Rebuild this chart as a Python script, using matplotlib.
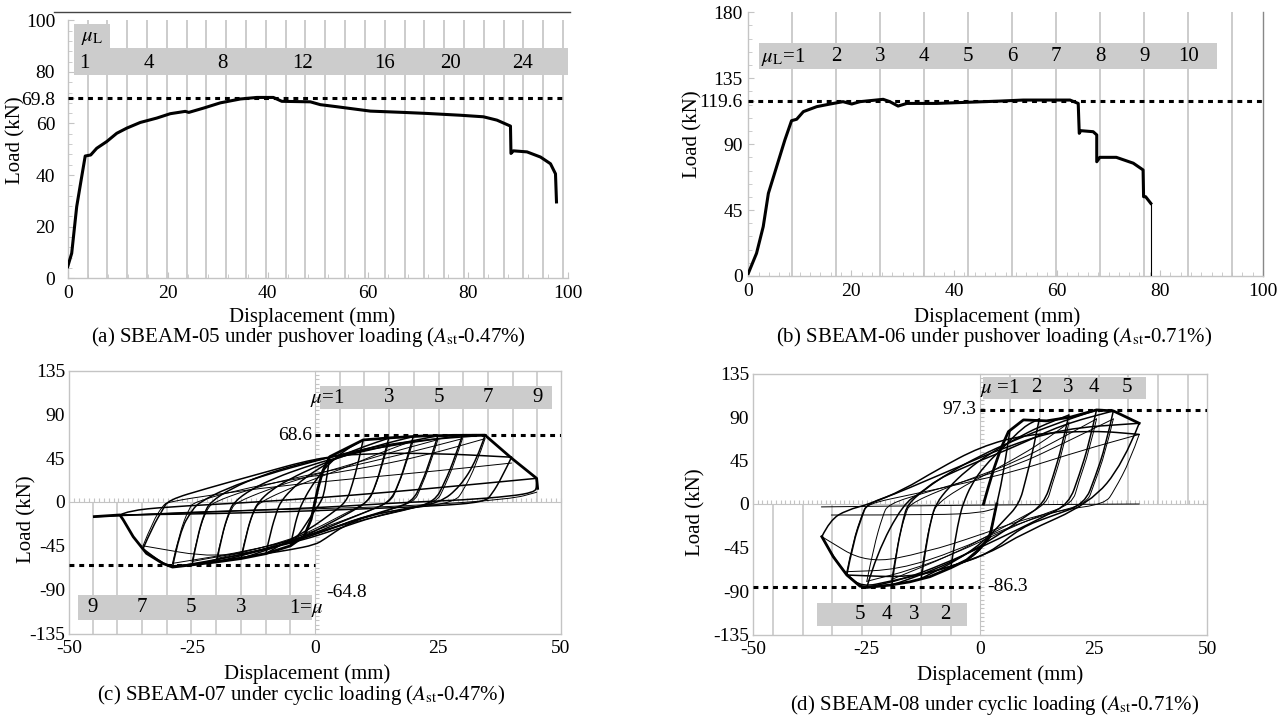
# Curvas carga-desplazamiento de vigas SBEAM-05..08 (pushover y ciclica)
import numpy as np
import matplotlib
matplotlib.use('Agg')
import matplotlib.pyplot as plt
from matplotlib.patches import Rectangle, PathPatch
from matplotlib.path import Path
from matplotlib.lines import Line2D
from matplotlib.ticker import MultipleLocator

plt.rcParams['font.family'] = ['Liberation Serif', 'DejaVu Serif']
plt.rcParams['mathtext.fontset'] = 'stix'
plt.rcParams['font.size'] = 14
plt.rcParams['axes.unicode_minus'] = False

# ---------------- datos ----------------
# (a) SBEAM-05, pushover
a_disp = [0, 0.8, 1.8, 2.8, 3.5, 4.6, 5.8, 7.8, 9.8, 11.8, 14.5, 17.8, 20.5, 23.5, 24.2,
          27.2, 30.5, 34.5, 37.8, 41.1, 42.8, 48.5, 50.5, 53.8, 60.5, 67.1, 71.8, 78.5,
          83.1, 85.8, 88.5, 88.6, 89.1, 91.8, 94.5, 96.5, 97.5, 97.7]
a_load = [4.5, 9.7, 27.8, 39.4, 47.4, 47.8, 50.4, 53.0, 56.2, 58.2, 60.4, 62.1, 63.8, 64.7, 64.3,
          66.0, 68.0, 69.5, 70.1, 70.1, 68.6, 68.4, 67.3, 66.5, 64.8, 64.3, 63.9, 63.2,
          62.6, 61.3, 59.0, 48.4, 49.4, 49.0, 47.0, 44.4, 40.5, 29.6]
a_pico = 69.8
a_mu_lab = ['1', '4', '8', '12', '16', '20', '24']
a_mu_x = [3.4, 16.2, 31.0, 47.0, 63.4, 76.5, 91.0]

# (b) SBEAM-06, pushover
b_disp = [0, 1.6, 2.9, 3.9, 5.5, 7.1, 8.4, 9.4, 10.7, 13.3, 15.9, 18.4, 20.1, 21.7, 26.2, 27.5,
          29.1, 30.8, 36.6, 48.9, 53.4, 62.5, 64.1, 64.3, 64.6, 67.0, 67.7, 67.7, 68.3, 71.5,
          74.8, 76.7, 76.8, 77.2, 78.2]
b_load = [1.8, 15.5, 33.7, 56.4, 74.6, 92.8, 106.0, 107.0, 112.2, 115.6, 117.4, 119.0, 117.4,
          119.0, 120.6, 119.0, 116.0, 117.8, 117.8, 119.4, 120.1, 120.1, 117.8, 97.4, 99.2,
          98.5, 96.3, 78.0, 81.0, 81.0, 77.0, 72.4, 54.1, 54.1, 49.6]
b_pico = 119.6
b_mu_lab = ['2', '3', '4', '5', '6', '7', '8', '9', '10']

# (c) SBEAM-07, ciclica
c_pico_pos = 68.6
c_pico_neg = -64.8
c_env_pos = [(0, 0), (0.6, 14), (1.6, 32), (3.0, 46.5), (9.8, 63.7), (15, 65.8), (22, 67.8),
             (28, 68.4), (34.6, 68.6), (40, 45), (45.1, 24.3), (45.3, 14)]
c_env_neg = [(0, 0), (-0.8, -18), (-2.2, -35), (-5, -45), (-10, -53), (-15, -58), (-20, -61.5),
             (-25, -64.5), (-29, -66.8), (-31, -63), (-34.3, -52.7), (-37, -35.6), (-39, -18.5),
             (-39.7, -13.3), (-44.9, -15)]
c_descarga = [
    [(3.0, 46.5), (2.4, 25), (1.8, 8), (1.2, 0), (-0.5, -12), (-2.5, -28), (-5, -45)],
    [(9.8, 63.7), (8.8, 40), (7.6, 18), (6.4, 0), (3, -13), (0, -24), (-4, -36), (-8, -47), (-10, -53)],
    [(15, 65.5), (13.8, 42), (12.4, 18), (10.8, 0), (7, -11), (3, -22), (-2, -35), (-9, -48), (-15, -58)],
    [(20, 67.2), (18.7, 44), (17, 18), (15.2, 0), (11, -9), (6, -19), (0, -32), (-8, -46), (-15, -55), (-20, -61.5)],
    [(25, 68), (23.6, 45), (21.7, 19), (19.8, 0), (15, -8), (9, -17), (2, -30), (-6, -43), (-15, -54), (-25, -64.5)],
    [(30, 68.4), (28.5, 46), (26.4, 20), (24.3, 0), (19, -7), (12, -15), (5, -27), (-3, -40), (-14, -53), (-22, -61), (-29, -66.8)],
    [(34.6, 68.5), (32.9, 43), (29.5, 15.7), (25.4, -1), (18, -7), (11, -14), (6, -24), (2, -38), (0, -44),
     (-5, -49), (-10, -53), (-20, -61), (-29, -66.5), (-31, -63), (-35, -48)],
    [(40, 46), (38, 25), (36, 8), (34.5, 0), (25, -4), (10, -7), (0, -9), (-20, -12), (-39.7, -13.3)],
    [(45.1, 24.3), (45.2, 15), (44.5, 10), (40, 6), (30, 2), (20, 0), (10, -3), (0, -6), (-20, -10), (-44.9, -15)],
]
c_recarga = [
    [(-5, -45), (-4.2, -25), (-3.2, -8), (-2.5, 0), (-1, 14), (1, 28), (3, 40), (6, 53), (9.8, 63.7)],
    [(-10, -53), (-9, -30), (-7.8, -10), (-7, 0), (-5, 12), (-2, 25), (1, 35), (5, 47), (10, 57), (15, 65.5)],
    [(-15, -58), (-14, -33), (-12.6, -10), (-11.5, 0), (-9, 12), (-5, 24), (0, 36), (5, 46), (12, 57), (20, 67.2)],
    [(-20, -61.5), (-19, -35), (-17.5, -10), (-16.5, 0), (-13, 13), (-8, 25), (-2, 36), (4, 45), (14, 57), (25, 68)],
    [(-25, -64.5), (-24, -37), (-22.5, -11), (-21.3, 0), (-17, 14), (-11, 27), (-4, 38), (3, 46), (15, 58), (30, 68.4)],
    [(-29, -66.8), (-27.5, -30), (-25, -8), (-23.4, 0), (-18, 14), (-10, 28), (0, 42), (10, 55), (20, 63), (34.6, 68.5)],
    [(-35, -48), (-33, -25), (-31, -8), (-29.9, 2), (-22, 14), (-12, 28), (0.2, 45), (10, 50), (25, 50), (40, 46)],
    [(-39.7, -13.3), (-38, -9), (-30, -5), (-15, -1), (0, 4), (15, 10), (30, 17), (45.1, 24.3)],
]
c_repeticion = [
    [(15, 61), (13.6, 36), (12, 12), (10.8, 0), (6, -12), (0, -28), (-7, -43), (-15, -55)],
    [(20, 63), (18.5, 38), (16.6, 13), (15.4, 0), (10, -11), (3, -24), (-6, -40), (-14, -51), (-20, -58)],
    [(25, 64), (23.4, 38), (21.4, 13), (20.2, 0), (14, -10), (6, -22), (-3, -37), (-14, -51), (-25, -61)],
    [(30, 65), (28.4, 40), (26.2, 14), (24.8, 0), (18, -9), (9, -19), (0, -32), (-12, -49), (-29, -63)],
    [(34.6, 65), (32.8, 38), (30.2, 12), (28.5, 0), (20, -6), (10, -14), (3, -28), (-6, -44), (-20, -58), (-35, -45)],
    [(-15, -55), (-13.8, -28), (-12.2, -6), (-11, 0), (-7, 10), (-1, 22), (6, 35), (13, 50), (20, 63)],
    [(-20, -58), (-18.8, -30), (-17, -6), (-15.8, 0), (-10, 12), (-3, 24), (5, 35), (14, 49), (25, 64)],
    [(-25, -61), (-23.8, -32), (-22, -7), (-20.5, 0), (-14, 12), (-5, 24), (5, 34), (17, 48), (30, 65)],
    [(-29, -63), (-27.6, -32), (-25.6, -6), (-24.5, 0), (-16, 12), (-5, 23), (8, 33), (22, 47), (34.6, 65)],
    [(-35, -45), (-33, -20), (-31, -4), (-30, 0), (-20, 8), (-8, 16), (8, 24), (25, 32), (40, 40)],
    [(-44.9, -15), (-30, -11), (-10, -8), (0, -7), (20, -4), (40, 3), (45.1, 10)],
]
c_mu_sup = ['3', '5', '7', '9']
c_mu_inf = ['9', '7', '5', '3']

# (d) SBEAM-08, ciclica
d_pico_pos = 97.3
d_pico_neg = -86.3
d_env_pos = [(0.7, 0), (1.8, 18), (2.9, 35.2), (4.5, 57), (6.2, 74.9), (9.5, 87), (14.6, 86),
             (20, 90), (25.6, 97.3), (29.3, 96.3), (35, 83.5)]
d_env_neg = [(3.6, 0), (2.1, -33.8), (-0.5, -48), (-3, -58), (-6.5, -66), (-11.1, -75.2),
             (-15.5, -80.5), (-19.9, -83.9), (-25, -86.3), (-26.5, -85), (-29.4, -73.5),
             (-32.4, -54.5), (-34.9, -33.8)]
d_descarga = [
    [(6.5, 75), (5.5, 45), (4.5, 18), (3.6, 0), (2.1, -34), (-0.5, -50), (-3, -58), (-6.5, -66)],
    [(13, 88), (11.6, 55), (10, 25), (8.6, 0), (5, -18), (1, -38), (-5, -58), (-13, -77)],
    [(19.5, 92), (18, 60), (16, 28), (14, 0), (9, -16), (4, -32), (-3, -52), (-10, -68), (-19.5, -84)],
    [(25.6, 97.3), (24, 63), (21.8, 30), (19.5, 0), (14, -13), (8, -27), (0, -45), (-8, -62), (-17, -78), (-25, -86.3)],
    [(29.3, 96.3), (27.6, 60), (25.3, 28), (23, 0), (16, -12), (9, -24), (2.1, -51), (-6, -64), (-15, -76), (-29.4, -73.5)],
    [(35, 83.5), (31.5, 42), (24.2, 0.7), (9.5, -30), (2.1, -51), (-10, -70), (-20, -80), (-26, -86),
     (-29.4, -73.5), (-32.4, -54.5), (-34.9, -33.8)],
]
d_recarga = [
    [(-6.5, -66), (-5.5, -35), (-4.5, -12), (-3.8, 0), (-2, 20), (1, 40), (5, 58), (9.5, 80), (13, 88)],
    [(-13, -77), (-12, -45), (-10.8, -15), (-9.8, 0), (-7, 17), (-3, 35), (2, 52), (8, 68), (13, 80), (19.5, 92)],
    [(-19.5, -84), (-18.5, -50), (-17, -16), (-16, 0), (-12, 16), (-7, 32), (0, 50), (7, 65), (16, 82), (25.6, 97.3)],
    [(-25, -86.3), (-22.8, -51), (-17, 0), (-13, 12), (-9.6, 25), (-4, 37), (0, 45), (8, 60), (18, 82), (29.3, 96.3)],
    [(-29.4, -73.5), (-28, -40), (-26, -12), (-25, 0), (-19, 10), (-12, 24), (-4, 40), (5, 58), (18, 78), (35, 83.5)],
    [(-34.9, -33.8), (-33.1, -16.6), (-29.4, -6.2), (-24.3, 0), (-17, 14.5), (-9.6, 35.2), (0, 59.3),
     (10, 72), (25, 76), (35, 72)],
]
d_repeticion = [
    [(19.5, 84), (18, 52), (15.8, 20), (14.6, 0), (9, -14), (2, -32), (-6, -52), (-19.5, -78)],
    [(25.6, 88), (24, 55), (21.6, 22), (20.3, 0), (13, -12), (5, -28), (-5, -50), (-15, -68), (-25, -80)],
    [(29.3, 88), (27.5, 52), (25, 20), (23.5, 0), (15, -10), (5, -26), (-5, -48), (-18, -68), (-29.4, -70)],
    [(35, 72), (33, 45), (29.5, 14), (27.5, 0), (18, -6), (8, -18), (0, -32), (-12, -50), (-25, -62), (-34.9, -33.8)],
    [(-13, -72), (-12, -40), (-10.5, -10), (-9.5, 0), (-5, 15), (1, 30), (8, 48), (13, 62), (19.5, 84)],
    [(-19.5, -78), (-18.3, -42), (-16.5, -10), (-15.5, 0), (-9, 14), (-1, 28), (8, 44), (17, 66), (25.6, 88)],
    [(-25, -80), (-23.5, -45), (-21.5, -12), (-20.3, 0), (-12, 12), (-3, 24), (8, 40), (18, 62), (29.3, 88)],
    [(-29.4, -70), (-28, -38), (-26, -10), (-25, 0), (-15, 10), (-5, 20), (8, 34), (22, 55), (35, 72)],
    [(-35, -3), (0, -1), (35, 0)],
    [(-32.8, -11.4), (-8.9, -11.4), (0, -9), (3, -5)],
]
d_mu_sup = ['2', '3', '4', '5']
d_mu_sup_x = [12.4, 19.4, 25.1, 32.4]
d_mu_inf = ['5', '4', '3', '2']
d_mu_inf_x = [-26.5, -20.5, -14.5, -7.8]

# ---------------- estilo ----------------
GRIS = '#c4c4c4'
BANDA = '#cccccc'
W, H = 1285, 719

fig = plt.figure(figsize=(W / 100, H / 100), dpi=100)


def ejes(izq, der, arr, abj):
    """Crea ejes a partir de coordenadas en pixeles."""
    return fig.add_axes([izq / W, 1 - abj / H, (der - izq) / W, (abj - arr) / H])


def texto_fig(x, y, s, **kw):
    fig.text(x / W, 1 - y / H, s, ha='center', va='center', **kw)


def estilo_ejes(ax, caja=True):
    for lado in ['top', 'right', 'left', 'bottom']:
        ax.spines[lado].set_color(GRIS)
        ax.spines[lado].set_linewidth(1.0)
        if not caja and lado in ['top', 'right']:
            ax.spines[lado].set_visible(False)
    ax.tick_params(which='both', direction='in', color=GRIS, labelsize=14)
    ax.tick_params(which='major', length=4)
    ax.tick_params(which='minor', length=3)
    ax.set_facecolor('none')


def ramas(ax, lista, lw):
    """Dibuja cada rama como curva suave (bezier cuadratica por los puntos leidos)."""
    for r in lista:
        pts = np.array(r, dtype=float)
        verts = [pts[0]]
        codes = [Path.MOVETO]
        for i in range(1, len(pts) - 1):
            verts += [pts[i], (pts[i] + pts[i + 1]) / 2]
            codes += [Path.CURVE3, Path.CURVE3]
        verts.append(pts[-1])
        codes.append(Path.LINETO)
        ax.add_patch(PathPatch(Path(verts, codes), fill=False, ec='k', lw=lw, zorder=4,
                               joinstyle='round', capstyle='round'))


def envolvente(ax, pts, lw=2.0):
    xs, ys = zip(*pts)
    ax.plot(xs, ys, color='k', lw=lw, zorder=4, solid_joinstyle='round')


def eje_cero(ax, paso_x, paso_y):
    """Ejes x=0 e y=0 con marcas menores."""
    az = fig.add_axes(ax.get_position().bounds)
    az.set_xlim(ax.get_xlim())
    az.set_ylim(ax.get_ylim())
    az.patch.set_visible(False)
    az.spines['top'].set_visible(False)
    az.spines['right'].set_visible(False)
    az.spines['left'].set_position(('data', 0))
    az.spines['bottom'].set_position(('data', 0))
    az.spines['left'].set_color(GRIS)
    az.spines['bottom'].set_color(GRIS)
    az.xaxis.set_major_locator(MultipleLocator(paso_x))
    az.yaxis.set_major_locator(MultipleLocator(paso_y))
    az.tick_params(which='both', direction='in', color=GRIS, length=3,
                   labelbottom=False, labelleft=False)
    az.set_zorder(0)
    ax.set_zorder(1)
    return az


# ---------------- (a) ----------------
ax = ejes(67.7, 568, 20.3, 278.3)
estilo_ejes(ax, caja=False)
ax.set_xlim(0, 100)
ax.set_ylim(0, 100)
dy_a = 3.96
ax.vlines(dy_a * np.arange(1, 26), 0, 100, color=GRIS, lw=1.2, zorder=1)
ax.add_patch(Rectangle((1.3, 78.7), 98.7, 10.6, color=BANDA, zorder=2, lw=0))
ax.add_patch(Rectangle((1.3, 89.3), 7.2, 9.2, color=BANDA, zorder=2, lw=0))
ax.text(2.6, 93.2, r'$\mu_{\mathrm{L}}$', fontsize=15, va='center', zorder=3)
for lab, x in zip(a_mu_lab, a_mu_x):
    ax.text(x, 83.3, lab, fontsize=15, ha='center', va='center', zorder=3)
ax.plot([0, 99.5], [a_pico, a_pico], color='k', lw=2.2, dashes=(1.6, 1.6), zorder=5)
ax.plot(a_disp, a_load, color='k', lw=2.2, zorder=4)
ax.set_xticks([0, 20, 40, 60, 80, 100])
ax.set_yticks([0, 20, 40, 60, a_pico, 80, 100])
ax.set_yticklabels(['0', '20', '40', '60', '69.8', '80', '100'])
ax.xaxis.set_minor_locator(MultipleLocator(4))
ax.yaxis.set_minor_locator(MultipleLocator(4))
ax.tick_params(axis='y', pad=9)
ax.tick_params(axis='x', pad=5)
fig.add_artist(Line2D([54 / W, 570 / W], [1 - 11.7 / H] * 2, color='#444444', lw=1.0))
texto_fig(16, 140, 'Load (kN)', rotation=90, fontsize=15)
texto_fig(312, 317, 'Displacement (mm)', fontsize=15)
texto_fig(308, 337, r'(a) SBEAM-05 under pushover loading ($A_{\mathrm{st}}$-0.47%)', fontsize=15)

# ---------------- (b) ----------------
ax = ejes(748.3, 1263, 12.3, 276)
estilo_ejes(ax, caja=False)
ax.spines['right'].set_visible(True)
ax.spines['right'].set_color('#888888')
ax.set_xlim(0, 100)
ax.set_ylim(0, 180)
dy_b = 8.55
ax.vlines(dy_b * np.arange(1, 12), 0, 180, color=GRIS, lw=1.2, zorder=1)
ax.add_patch(Rectangle((2.1, 141), 89, 17.8, color=BANDA, zorder=2, lw=0))
ax.text(2.4, 149.5, r'$\mu_{\mathrm{L}}$=1', fontsize=15, va='center', zorder=3)
for k, lab in enumerate(b_mu_lab, start=2):
    ax.text(dy_b * k, 149.5, lab, fontsize=15, ha='center', va='center', zorder=3)
ax.plot([0, 100], [b_pico, b_pico], color='k', lw=2.2, dashes=(1.6, 1.6), zorder=5)
ax.plot(b_disp, b_load, color='k', lw=2.2, zorder=4)
ax.plot([b_disp[-1], b_disp[-1]], [b_load[-1], 0], color='k', lw=0.8, zorder=4)
ax.set_xticks([0, 20, 40, 60, 80, 100])
ax.set_yticks([0, 45, 90, b_pico, 135, 180])
ax.set_yticklabels(['0', '45', '90', '119.6', '135', '180'])
ax.xaxis.set_minor_locator(MultipleLocator(2))
ax.yaxis.set_minor_locator(MultipleLocator(9))
ax.tick_params(axis='y', pad=4)
ax.tick_params(axis='x', pad=5)
texto_fig(693, 134, 'Load (kN)', rotation=90, fontsize=15)
texto_fig(997, 317, 'Displacement (mm)', fontsize=15)
texto_fig(994, 337, r'(b) SBEAM-06 under pushover loading ($A_{\mathrm{st}}$-0.71%)', fontsize=15)

# ---------------- (c) ----------------
ax = ejes(69.3, 560.7, 370.5, 633.5)
estilo_ejes(ax)
ax.set_xlim(-50, 50)
ax.set_ylim(-135, 135)
eje_cero(ax, 1, 4.5)
dy_c = 5.03
ax.vlines(dy_c * np.arange(1, 10), 0, 135, color=GRIS, lw=1.1, zorder=1)
ax.vlines(-dy_c * np.arange(1, 10), -135, 0, color=GRIS, lw=1.1, zorder=1)
ax.add_patch(Rectangle((1.0, 95.2), 47.2, 23.8, color=BANDA, zorder=2, lw=0))
ax.add_patch(Rectangle((-48.2, -121.3), 47.5, 25.8, color=BANDA, zorder=2, lw=0))
ax.text(-1.0, 107, r'$\mu$=1', fontsize=15, ha='left', va='center', zorder=3)
for k, lab in zip([3, 5, 7, 9], c_mu_sup):
    ax.text(dy_c * k, 107, lab, fontsize=15, ha='center', va='center', zorder=3)
for k, lab in zip([9, 7, 5, 3], c_mu_inf):
    ax.text(-dy_c * k, -108.5, lab, fontsize=15, ha='center', va='center', zorder=3)
ax.text(1.6, -108.5, r'1=$\mu$', fontsize=15, ha='right', va='center', zorder=3)
ax.plot([0, 50], [c_pico_pos] * 2, color='k', lw=2.2, dashes=(1.6, 1.6), zorder=5)
ax.plot([-50, 0], [c_pico_neg] * 2, color='k', lw=2.2, dashes=(1.6, 1.6), zorder=5)
ax.text(-0.6, c_pico_pos, '68.6', fontsize=14, ha='right', va='center')
ax.text(2.2, -93, '-64.8', fontsize=14, ha='left', va='center')
ramas(ax, c_repeticion, 0.7)
ramas(ax, c_descarga, 1.1)
ramas(ax, c_recarga, 1.1)
envolvente(ax, c_env_pos)
envolvente(ax, c_env_neg)
ax.set_xticks([-50, -25, 0, 25, 50])
ax.set_yticks([-135, -90, -45, 0, 45, 90, 135])
ax.tick_params(which='major', length=0)
ax.tick_params(axis='y', pad=3)
ax.tick_params(axis='x', pad=5)
texto_fig(27, 519, 'Load (kN)', rotation=90, fontsize=15)
texto_fig(307, 674, 'Displacement (mm)', fontsize=15)
texto_fig(301, 695, r'(c) SBEAM-07 under cyclic loading ($A_{\mathrm{st}}$-0.47%)', fontsize=15)

# ---------------- (d) ----------------
ax = ejes(753.3, 1207.3, 373.5, 634.5)
estilo_ejes(ax)
ax.set_xlim(-50, 50)
ax.set_ylim(-135, 135)
eje_cero(ax, 1, 4.5)
dy_d = 6.52
ax.vlines(dy_d * np.arange(1, 8), 0, 135, color=GRIS, lw=1.1, zorder=1)
ax.vlines(-dy_d * np.arange(1, 8), -135, 0, color=GRIS, lw=1.1, zorder=1)
ax.add_patch(Rectangle((0.7, 108.4), 35.8, 23.4, color=BANDA, zorder=2, lw=0))
ax.add_patch(Rectangle((-36, -125.9), 33.1, 23.1, color=BANDA, zorder=2, lw=0))
ax.text(-0.1, 120, r'$\mu$ =1', fontsize=15, ha='left', va='center', zorder=3)
for x, lab in zip(d_mu_sup_x, d_mu_sup):
    ax.text(x, 120, lab, fontsize=15, ha='center', va='center', zorder=3)
for x, lab in zip(d_mu_inf_x, d_mu_inf):
    ax.text(x, -114, lab, fontsize=15, ha='center', va='center', zorder=3)
ax.plot([0, 50], [d_pico_pos] * 2, color='k', lw=2.2, dashes=(1.6, 1.6), zorder=5)
ax.plot([-50, 0], [d_pico_neg] * 2, color='k', lw=2.2, dashes=(1.6, 1.6), zorder=5)
ax.text(-0.8, d_pico_pos, '97.3', fontsize=14, ha='right', va='center')
ax.text(1.5, -85, '-86.3', fontsize=14, ha='left', va='center')
ramas(ax, d_repeticion, 0.7)
ramas(ax, d_descarga, 1.1)
ramas(ax, d_recarga, 1.1)
envolvente(ax, d_env_pos)
envolvente(ax, d_env_neg)
ax.set_xticks([-50, -25, 0, 25, 50])
ax.set_yticks([-135, -90, -45, 0, 45, 90, 135])
ax.tick_params(which='major', length=0)
ax.tick_params(axis='y', pad=3)
ax.tick_params(axis='x', pad=5)
texto_fig(696, 512, 'Load (kN)', rotation=90, fontsize=15)
texto_fig(1000, 675, 'Displacement (mm)', fontsize=15)
texto_fig(995, 705, r'(d) SBEAM-08 under cyclic loading ($A_{\mathrm{st}}$-0.71%)', fontsize=15)

fig.savefig('out.png', dpi=100)
